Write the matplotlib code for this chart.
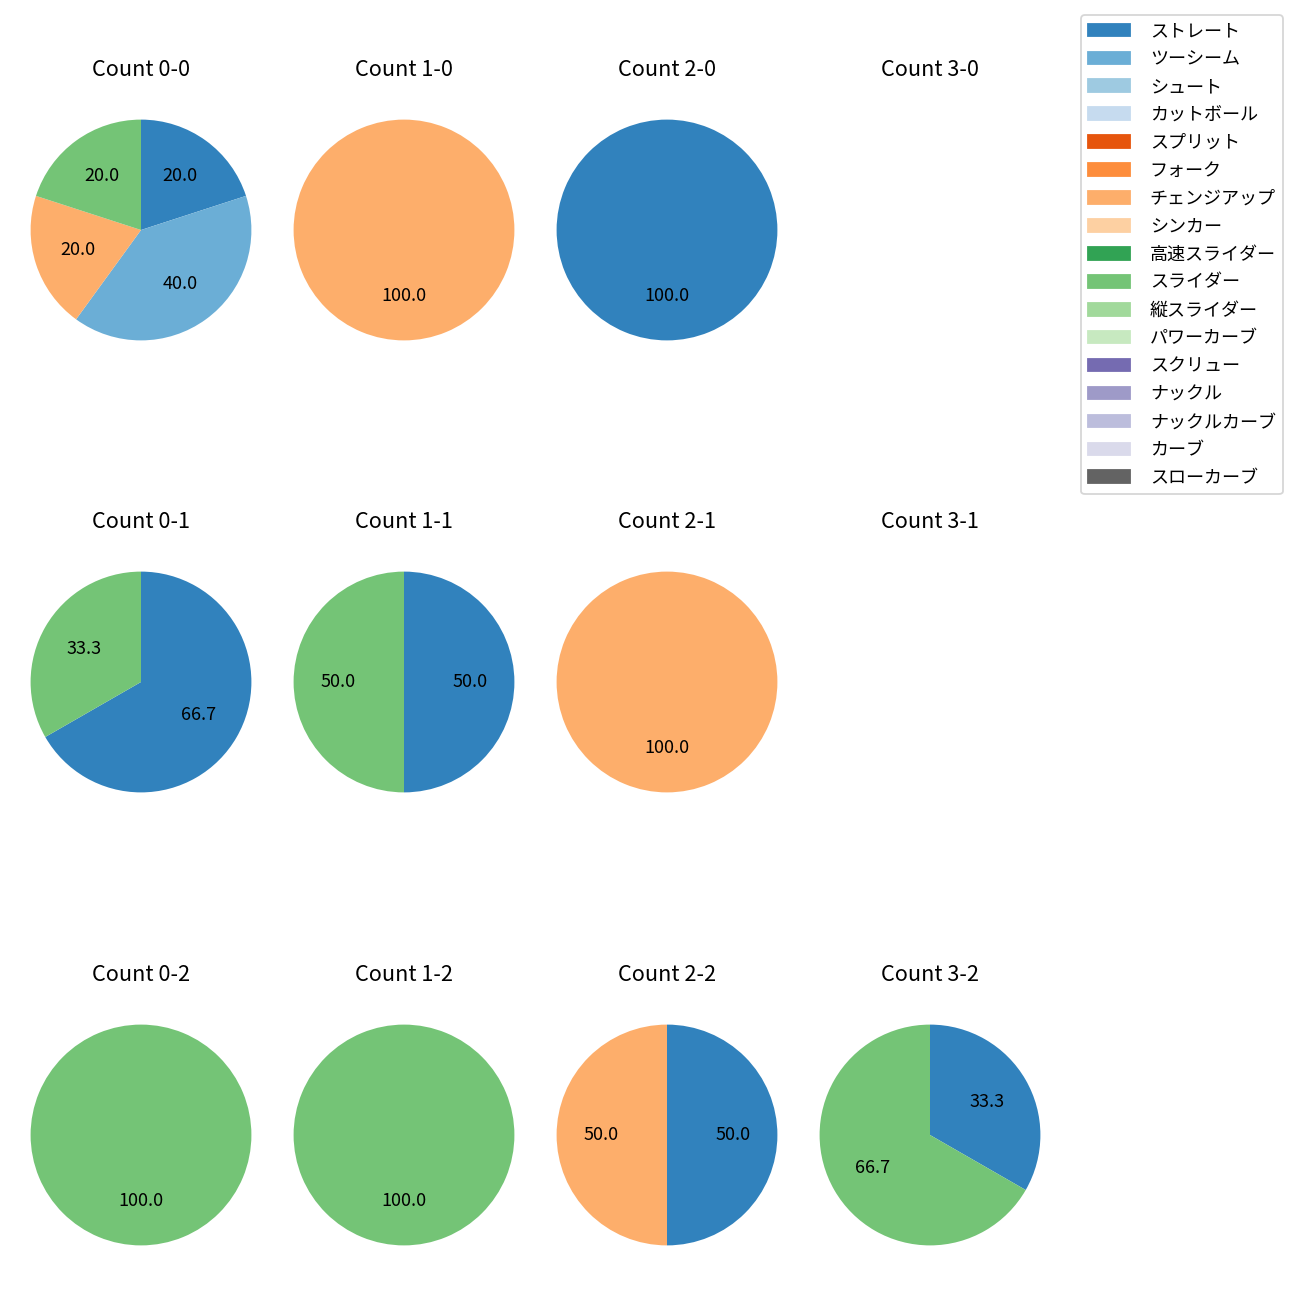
import numpy as np
import matplotlib
matplotlib.use("Agg")
import matplotlib.pyplot as plt
import matplotlib.patches as mpatches

plt.rcParams['font.family'] = ['Noto Sans CJK JP', 'DejaVu Sans']

# pitch types in legend order, coloured with tab20c
pitch_types = ['ストレート', 'ツーシーム', 'シュート', 'カットボール', 'スプリット', 'フォーク',
               'チェンジアップ', 'シンカー', '高速スライダー', 'スライダー', '縦スライダー',
               'パワーカーブ', 'スクリュー', 'ナックル', 'ナックルカーブ', 'カーブ', 'スローカーブ']

counts = ['0-0', '1-0', '2-0', '3-0',
          '0-1', '1-1', '2-1', '3-1',
          '0-2', '1-2', '2-2', '3-2']

# share (%) of each pitch per count
straight = [20, 0, 100, 0, 66.7, 50, 0, 0, 0, 0, 50, 33.3]
twoseam = [40, 0, 0, 0, 0, 0, 0, 0, 0, 0, 0, 0]
changeup = [20, 100, 0, 0, 0, 0, 100, 0, 0, 0, 50, 0]
slider = [20, 0, 0, 0, 33.3, 50, 0, 0, 100, 100, 0, 66.7]

series = {'ストレート': straight, 'ツーシーム': twoseam,
          'チェンジアップ': changeup, 'スライダー': slider}

cmap = plt.get_cmap('tab20c')
colors = {name: cmap(i) for i, name in enumerate(pitch_types)}

fig = plt.figure(figsize=(10, 10), dpi=130)

# pie centres in pixels
col_x = [141, 404, 667, 930]
row_y = [230, 682, 1135]
size = 276

for k, cnt in enumerate(counts):
    r, c = divmod(k, 4)
    cx, cy = col_x[c], row_y[r]
    ax = fig.add_axes([(cx - size / 2) / 1300, 1 - (cy + size / 2) / 1300, size / 1300, size / 1300])
    ax.set_title('Count ' + cnt, fontsize=12, pad=8.8)
    names = [n for n in series if series[n][k] > 0]
    vals = [series[n][k] for n in names]
    if len(vals) == 0:
        ax.axis('off')
        continue
    ax.pie(vals, colors=[colors[n] for n in names], startangle=90, counterclock=False,
           autopct='%.1f', textprops={'fontsize': 10})

handles = [mpatches.Patch(color=colors[n], label=n) for n in pitch_types]
fig.legend(handles=handles, loc='upper right', bbox_to_anchor=(1283 / 1300, 1 - 15 / 1300),
           borderaxespad=0, fontsize=10, labelspacing=0.55, handlelength=2.3, handletextpad=1.1)

fig.savefig('out.png')
